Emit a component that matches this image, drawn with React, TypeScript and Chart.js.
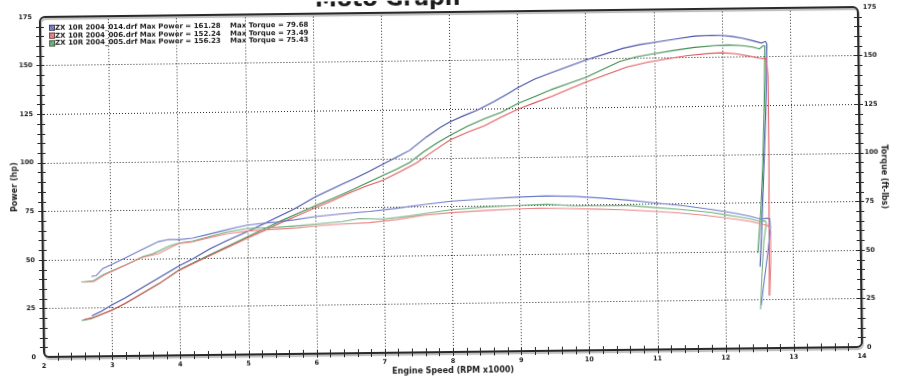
import { useEffect, useRef } from 'react';
import { Chart, registerables } from 'chart.js';

Chart.register(...registerables);

// ---------- data ----------
const runNames = ['ZX 10R 2004_014.drf', 'ZX 10R 2004_006.drf', 'ZX 10R 2004_005.drf'];
const maxPowerText = ['161.28', '152.24', '156.23'];
const maxTorqueText = ['79.68', '73.49', '75.43'];
const powerColors = ['#4a55ab', '#e05a5e', '#3f8f52'];
const torqueColors = ['#6f7cc6', '#ec8586', '#72b281'];
const legendFill = ['#7f8bd2', '#ee8a8a', '#7fba8c'];

const rpmTicks = [2, 3, 4, 5, 6, 7, 8, 9, 10, 11, 12, 13, 14];
const valueTicks = [0, 25, 50, 75, 100, 125, 150, 175];

// run 014 (blue)
const rpmPower014 = [2.71, 2.85, 3.0, 3.2, 3.45, 3.7, 4.0, 4.2, 4.45, 4.7, 5.0, 5.25, 5.45, 5.7, 6.0, 6.2, 6.4, 6.6, 6.8, 7.0, 7.2, 7.4, 7.65, 7.85, 8.0, 8.2, 8.4, 8.65, 8.85, 9.0, 9.25, 9.5, 9.75, 10.0, 10.25, 10.55, 10.8, 11.0, 11.3, 11.6, 11.85, 12.0, 12.15, 12.3, 12.45, 12.58, 12.64, 12.66, 12.63, 12.59, 12.55, 12.52];
const hp014 = [20.8, 23.2, 26.2, 29.8, 35, 40, 46, 49.5, 54.5, 58.6, 63.2, 67.2, 70.5, 74.6, 80.5, 83.8, 87, 90, 93.4, 97, 100.5, 104, 110.8, 115.5, 118.5, 121.5, 124.3, 128.6, 132.5, 135.6, 140, 143.2, 146.3, 149.4, 152, 155.2, 157, 158, 159.5, 161, 161.28, 161.2, 160.6, 159.6, 158.3, 157, 157.8, 156.5, 120, 90, 60, 42];
const rpmTorque014 = [2.71, 2.78, 2.88, 3.0, 3.2, 3.45, 3.7, 3.85, 4.0, 4.2, 4.4, 4.6, 4.85, 5.0, 5.2, 5.45, 5.7, 6.0, 6.4, 6.8, 7.2, 7.6, 8.0, 8.5, 9.0, 9.4, 9.8, 10.2, 10.6, 11.0, 11.4, 11.8, 12.0, 12.2, 12.4, 12.54, 12.62, 12.67, 12.68, 12.64, 12.58, 12.53];
const tq014 = [41.2, 41.5, 45.2, 47, 50.3, 54.5, 58.6, 59.7, 59.5, 60.2, 61.8, 63.5, 65.5, 66.5, 67.3, 68, 69, 70.5, 71.8, 72.8, 74.3, 76, 77.6, 78.6, 79.3, 79.68, 79.3, 78.3, 77, 75.4, 73.8, 71.8, 70.6, 69.3, 67.8, 66.4, 66.8, 66.6, 62, 50, 35, 22];

// run 006 (red)
const rpmPower006 = [2.6, 2.75, 2.9, 3.0, 3.2, 3.45, 3.7, 4.0, 4.25, 4.5, 4.75, 5.0, 5.25, 5.5, 5.75, 6.0, 6.25, 6.5, 6.75, 7.0, 7.25, 7.5, 7.75, 8.0, 8.25, 8.5, 8.75, 9.0, 9.25, 9.5, 9.75, 10.0, 10.3, 10.6, 10.9, 11.2, 11.5, 11.8, 12.0, 12.2, 12.4, 12.55, 12.65, 12.67, 12.67, 12.66, 12.65];
const hp006 = [19, 20.2, 22.3, 23.6, 27, 32, 37, 43.8, 47.8, 51.8, 55.8, 59.8, 63.6, 67.5, 71.3, 75, 78.5, 82.3, 85.8, 88.8, 93, 97.5, 103.5, 109.2, 113, 116.2, 120.5, 124.5, 127.8, 131, 134.5, 138, 141.8, 145.5, 147.8, 149.5, 151, 152, 152.24, 151.7, 150.3, 149.2, 148.8, 140, 100, 60, 27];
const rpmTorque006 = [2.6, 2.75, 2.9, 3.0, 3.2, 3.45, 3.7, 3.9, 4.0, 4.2, 4.45, 4.7, 5.0, 5.25, 5.5, 5.75, 6.0, 6.4, 6.8, 7.2, 7.6, 8.0, 8.5, 9.0, 9.3, 9.7, 10.1, 10.5, 10.9, 11.3, 11.7, 12.0, 12.2, 12.4, 12.55, 12.64, 12.68, 12.68, 12.66];
const tq006 = [38.2, 38.6, 41.8, 43.4, 46.6, 50.6, 52.5, 56, 57.5, 58.3, 60.4, 62.3, 63.5, 64, 64.4, 64.9, 65.7, 66.5, 67.1, 68.5, 70.5, 71.7, 72.6, 73.2, 73.49, 73.1, 72.6, 72.2, 71.3, 70.2, 68.8, 67.4, 66.4, 65.2, 63.8, 63.2, 60, 45, 27];

// run 005 (green)
const rpmPower005 = [2.56, 2.7, 2.85, 3.0, 3.2, 3.45, 3.7, 4.0, 4.25, 4.5, 4.75, 5.0, 5.25, 5.5, 5.75, 6.0, 6.25, 6.5, 6.75, 7.0, 7.2, 7.4, 7.6, 7.8, 8.0, 8.25, 8.5, 8.75, 9.0, 9.25, 9.5, 9.75, 10.0, 10.25, 10.5, 10.75, 11.0, 11.3, 11.6, 11.9, 12.1, 12.3, 12.45, 12.55, 12.6, 12.63, 12.61, 12.58, 12.54, 12.49];
const hp005 = [18.5, 19.5, 21.5, 23.5, 27, 32, 37, 44, 48.2, 52.3, 56.3, 60.5, 64.5, 68.5, 72.3, 76, 79.5, 83.2, 87.2, 91.2, 94.3, 97.8, 103, 107.5, 111.5, 116, 119.8, 123, 127.5, 131, 134.5, 137.5, 140.5, 144.5, 148.5, 150.8, 152.2, 153.8, 155.2, 156, 156.23, 155.8, 155, 154, 155.5, 155.5, 125, 95, 70, 49];
const rpmTorque005 = [2.56, 2.73, 2.88, 3.0, 3.22, 3.47, 3.61, 3.86, 4.0, 4.2, 4.45, 4.7, 5.0, 5.2, 5.45, 5.7, 6.0, 6.4, 6.65, 7.0, 7.4, 7.7, 8.0, 8.5, 9.0, 9.4, 9.8, 10.2, 10.6, 11.0, 11.4, 11.8, 12.0, 12.2, 12.4, 12.52, 12.6, 12.62, 12.58, 12.55, 12.52];
const tq005 = [38.3, 38.8, 42, 43.7, 47, 51, 52.3, 56.3, 57.8, 58.6, 61, 63.2, 64.8, 65, 65.3, 65.8, 66.6, 67.8, 69.2, 68.8, 70.3, 71.8, 73.2, 74.4, 75, 75.43, 74.5, 74.2, 74.3, 73, 71.8, 70.2, 69, 67.8, 66.5, 65.2, 65.5, 64.5, 55, 40, 20];

const chartTitle = 'Moto Graph';

// ---------- helpers ----------
const FONT = '"DejaVu Sans", Verdana, sans-serif';
const pts = (xs: number[], ys: number[]) => xs.map((x, i) => ({ x, y: ys[i] }));

const gridPlugin = {
  id: 'dottedGrid',
  beforeDatasetsDraw(chart: any) {
    const { ctx, chartArea } = chart;
    const { left, right, top, bottom } = chartArea;
    const sx = chart.scales.x;
    const sy = chart.scales.y;
    ctx.save();
    ctx.lineWidth = 1;
    ctx.strokeStyle = '#2e2e2e';
    ctx.setLineDash([1, 2]);
    ctx.beginPath();
    rpmTicks.slice(1, -1).forEach((v) => {
      const x = Math.round(sx.getPixelForValue(v)) + 0.5;
      ctx.moveTo(x, top);
      ctx.lineTo(x, bottom);
    });
    valueTicks.slice(1, -1).forEach((v) => {
      const y = Math.round(sy.getPixelForValue(v)) + 0.5;
      ctx.moveTo(left, y);
      ctx.lineTo(right, y);
    });
    ctx.stroke();
    ctx.restore();
  },
};

const dynoPlugin = {
  id: 'dynoFrame',
  afterDraw(chart: any) {
    const { ctx, chartArea } = chart;
    const { left, right, top, bottom } = chartArea;
    const sx = chart.scales.x;
    const sy = chart.scales.y;
    ctx.save();

    // frame with rounded corners and a light shadow
    const r = 5;
    ctx.beginPath();
    ctx.moveTo(left + r, top);
    ctx.lineTo(right - r, top);
    ctx.arcTo(right, top, right, top + r, r);
    ctx.lineTo(right, bottom - r);
    ctx.arcTo(right, bottom, right - r, bottom, r);
    ctx.lineTo(left + r, bottom);
    ctx.arcTo(left, bottom, left, bottom - r, r);
    ctx.lineTo(left, top + r);
    ctx.arcTo(left, top, left + r, top, r);
    ctx.closePath();
    ctx.lineWidth = 2;
    ctx.strokeStyle = '#2a2a2a';
    ctx.shadowColor = 'rgba(0,0,0,0.28)';
    ctx.shadowOffsetX = 1;
    ctx.shadowOffsetY = 2;
    ctx.shadowBlur = 1;
    ctx.stroke();
    ctx.shadowColor = 'rgba(0,0,0,0)';

    // minor/major ticks crossing the axis lines
    ctx.lineWidth = 1;
    ctx.strokeStyle = '#2a2a2a';
    ctx.beginPath();
    const xMin = rpmTicks[0];
    const xMax = rpmTicks[rpmTicks.length - 1];
    const nx = Math.round((xMax - xMin) / 0.2);
    for (let i = 1; i < nx; i++) {
      const x = Math.round(sx.getPixelForValue(xMin + i * 0.2)) + 0.5;
      ctx.moveTo(x, bottom - 4);
      ctx.lineTo(x, bottom + 4);
    }
    const yMax = valueTicks[valueTicks.length - 1];
    for (let v = 5; v < yMax; v += 5) {
      const y = Math.round(sy.getPixelForValue(v)) + 0.5;
      ctx.moveTo(left - 4, y);
      ctx.lineTo(left + 4, y);
      ctx.moveTo(right - 4, y);
      ctx.lineTo(right + 4, y);
    }
    ctx.stroke();

    // legend block
    ctx.font = `bold 7px ${FONT}`;
    ctx.textBaseline = 'middle';
    runNames.forEach((name, i) => {
      const y = top + 11 + i * 7.8;
      const bx = left + 9;
      ctx.fillStyle = '#ffffff';
      ctx.fillRect(bx - 1, y - 4, 200 + 120, 8);
      ctx.fillStyle = legendFill[i];
      ctx.fillRect(bx, y - 3, 6, 6);
      ctx.strokeStyle = '#3a3a3a';
      ctx.lineWidth = 0.8;
      ctx.strokeRect(bx + 0.4, y - 2.6, 5.2, 5.2);
      ctx.beginPath();
      ctx.moveTo(bx + 1, y - 2);
      ctx.lineTo(bx + 5, y + 2);
      ctx.strokeStyle = powerColors[i];
      ctx.stroke();
      ctx.fillStyle = '#1c1c1c';
      ctx.textAlign = 'left';
      ctx.fillText(`${name} Max Power = ${maxPowerText[i]}`, left + 15, y);
      ctx.fillText(`Max Torque = ${maxTorqueText[i]}`, left + 190, y);
    });
    // redraw dotted grid segments that the legend background covered
    ctx.lineWidth = 1;
    ctx.strokeStyle = '#2e2e2e';
    ctx.setLineDash([1, 2]);
    ctx.beginPath();
    [3, 4, 5, 6].forEach((v) => {
      const x = Math.round(sx.getPixelForValue(v)) + 0.5;
      ctx.moveTo(x, top + 6);
      ctx.lineTo(x, top + 11 + 2 * 7.8 + 4);
    });
    ctx.stroke();
    ctx.setLineDash([]);

    // partially visible page title at top
    ctx.font = `bold 22px ${FONT}`;
    ctx.textAlign = 'center';
    ctx.textBaseline = 'alphabetic';
    ctx.fillStyle = '#1a1a1a';
    ctx.fillText(chartTitle, 390, 5);

    ctx.restore();
  },
};

export default function App() {
  const ref = useRef<HTMLCanvasElement | null>(null);

  useEffect(() => {
    if (!ref.current) return;
    const mk = (label: string, xs: number[], ys: number[], color: string, axis: string) => ({
      label,
      data: pts(xs, ys),
      borderColor: color,
      backgroundColor: color,
      borderWidth: 1.1,
      pointRadius: 0,
      tension: 0,
      fill: false,
      yAxisID: axis,
    });
    const tickFont = { family: FONT, size: 6.5, weight: 'bold' as const };
    const titleFont = { family: FONT, size: 8, weight: 'bold' as const };
    const chart = new Chart(ref.current, {
      type: 'line',
      data: {
        datasets: [
          mk('014 torque', rpmTorque014, tq014, torqueColors[0], 'y1'),
          mk('006 torque', rpmTorque006, tq006, torqueColors[1], 'y1'),
          mk('005 torque', rpmTorque005, tq005, torqueColors[2], 'y1'),
          mk('006 power', rpmPower006, hp006, powerColors[1], 'y'),
          mk('005 power', rpmPower005, hp005, powerColors[2], 'y'),
          mk('014 power', rpmPower014, hp014, powerColors[0], 'y'),
        ],
      },
      options: {
        animation: false,
        responsive: false,
        devicePixelRatio: 1,
        layout: { padding: { top: 10, left: 0, right: 0, bottom: 0 } },
        plugins: { legend: { display: false }, tooltip: { enabled: false } },
        events: [],
        scales: {
          x: {
            type: 'linear',
            min: rpmTicks[0],
            max: rpmTicks[rpmTicks.length - 1],
            afterBuildTicks: (s: any) => { s.ticks = rpmTicks.map((value) => ({ value })); },
            afterFit: (s: any) => { s.height = 30; },
            ticks: { font: tickFont, color: '#1e1e1e', padding: 5, autoSkip: false, maxRotation: 0 },
            grid: { display: false, drawTicks: false },
            border: { display: false },
            title: { display: true, text: 'Engine Speed (RPM x1000)', font: titleFont, color: '#1e1e1e', padding: { top: 0, bottom: 6 } },
          },
          y: {
            type: 'linear',
            position: 'left',
            min: valueTicks[0],
            max: valueTicks[valueTicks.length - 1],
            afterBuildTicks: (s: any) => { s.ticks = valueTicks.map((value) => ({ value })); },
            afterFit: (s: any) => { s.width = 42; },
            ticks: { font: tickFont, color: '#1e1e1e', padding: 8 },
            grid: { display: false, drawTicks: false },
            border: { display: false },
            title: { display: true, text: 'Power (hp)', font: titleFont, color: '#1e1e1e', padding: { top: 10, bottom: 0 } },
          },
          y1: {
            type: 'linear',
            position: 'right',
            min: valueTicks[0],
            max: valueTicks[valueTicks.length - 1],
            afterBuildTicks: (s: any) => { s.ticks = valueTicks.map((value) => ({ value })); },
            afterFit: (s: any) => { s.width = 40; },
            ticks: { font: tickFont, color: '#1e1e1e', padding: 5 },
            grid: { display: false, drawTicks: false },
            border: { display: false },
            title: { display: true, text: 'Torque (ft-lbs)', font: titleFont, color: '#1e1e1e', padding: { top: 11, bottom: 0 } },
          },
        },
      },
      plugins: [gridPlugin, dynoPlugin],
    });
    return () => chart.destroy();
  }, []);

  return (
    <div style={{ position: 'fixed', left: 0, top: 0, width: 900, height: 382, background: '#fff', overflow: 'hidden' }}>
      <canvas ref={ref} width={900} height={382} style={{ display: 'block', width: 900, height: 382, transform: 'rotate(-0.7deg)' }} />
    </div>
  );
}
